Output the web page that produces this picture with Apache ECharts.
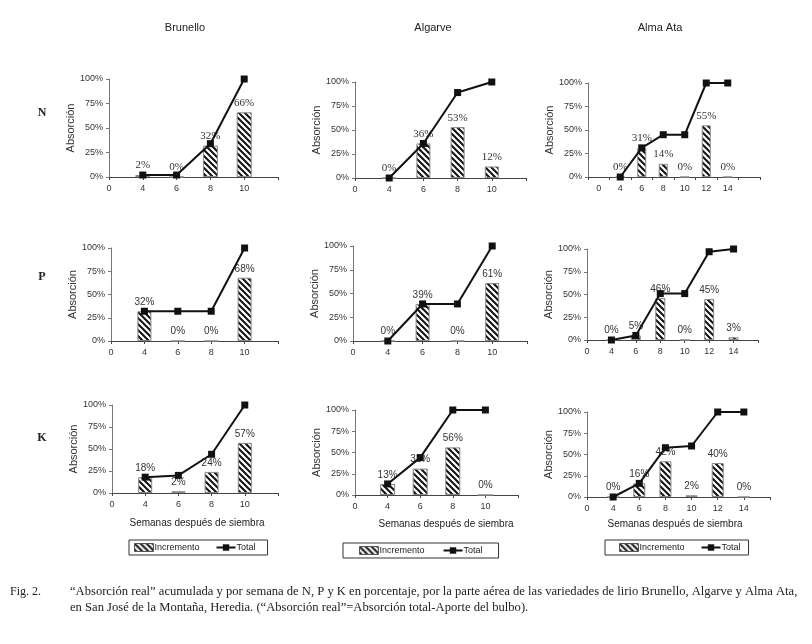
<!DOCTYPE html>
<html><head><meta charset="utf-8">
<script src="https://cdn.jsdelivr.net/npm/echarts@6/dist/echarts.min.js"></script>
<style>html,body{margin:0;padding:0;background:#fff}#c{width:812px;height:644px}</style>
</head><body><div id="c"></div>
<script>
// ---- data ----
const varieties = ['Brunello', 'Algarve', 'Alma Ata'];
const nutrients = ['N', 'P', 'K'];
const weeksShort = ['4', '6', '8', '10'];
const weeksLong = ['4', '6', '8', '10', '12', '14'];
const xLabelsShort = ['0', '4', '6', '8', '10', ''];
const xLabelsLong = ['0', '4', '6', '8', '10', '12', '14', ''];
const yTicks = [0, 25, 50, 75, 100];

const incN_Brunello = [2, 0, 32, 66];
const totN_Brunello = [2, 2, 34, 100];
const incN_Algarve = [0, 36, 53, 12];
const totN_Algarve = [0, 36, 89, 100];
const incN_AlmaAta = [0, 31, 14, 0, 55, 0];
const totN_AlmaAta = [0, 31, 45, 45, 100, 100];

const incP_Brunello = [32, 0, 0, 68];
const totP_Brunello = [32, 32, 32, 100];
const incP_Algarve = [0, 39, 0, 61];
const totP_Algarve = [0, 39, 39, 100];
const incP_AlmaAta = [0, 5, 46, 0, 45, 3];
const totP_AlmaAta = [0, 5, 51, 51, 97, 100];

const incK_Brunello = [18, 2, 24, 57];
const totK_Brunello = [18, 20, 44, 100];
const incK_Algarve = [13, 31, 56, 0];
const totK_Algarve = [13, 44, 100, 100];
const incK_AlmaAta = [0, 16, 42, 2, 40, 0];
const totK_AlmaAta = [0, 16, 58, 60, 100, 100];

const xTitle = 'Semanas después de siembra';
const yTitle = 'Absorción';
const seriesNames = ['Incremento', 'Total'];
const figLabel = 'Fig. 2.';
const caption1 = '“Absorción real” acumulada y por semana de N, P y K en porcentaje, por la parte aérea de las variedades de lirio Brunello, Algarve y Alma Ata,';
const caption2 = 'en San José de la Montaña, Heredia. (“Absorción real”=Absorción total-Aporte del bulbo).';

// ---- layout ----
const panels = [
  {inc: incN_Brunello, tot: totN_Brunello, weeks: weeksShort, labels: xLabelsShort, g: [109, 79, 169, 98], bw: 15, bg: false, serif: true},
  {inc: incN_Algarve, tot: totN_Algarve, weeks: weeksShort, labels: xLabelsShort, g: [355, 82, 171, 96], bw: 14, bg: false, serif: true},
  {inc: incN_AlmaAta, tot: totN_AlmaAta, weeks: weeksLong, labels: xLabelsLong, g: [588, 83, 172, 94], bw: 9, bg: true, serif: true},
  {inc: incP_Brunello, tot: totP_Brunello, weeks: weeksShort, labels: xLabelsShort, g: [111, 248, 167, 93], bw: 14, bg: false, serif: false},
  {inc: incP_Algarve, tot: totP_Algarve, weeks: weeksShort, labels: xLabelsShort, g: [353, 246, 174, 95], bw: 14, bg: false, serif: false},
  {inc: incP_AlmaAta, tot: totP_AlmaAta, weeks: weeksLong, labels: xLabelsLong, g: [587, 249, 171, 91], bw: 10, bg: false, serif: false},
  {inc: incK_Brunello, tot: totK_Brunello, weeks: weeksShort, labels: xLabelsShort, g: [112, 405, 166, 88], bw: 14, bg: false, serif: false},
  {inc: incK_Algarve, tot: totK_Algarve, weeks: weeksShort, labels: xLabelsShort, g: [355, 410, 163, 85], bw: 15, bg: false, serif: false},
  {inc: incK_AlmaAta, tot: totK_AlmaAta, weeks: weeksLong, labels: xLabelsLong, g: [587, 412, 183, 85], bw: 12, bg: false, serif: false}
];

function hatch() {
  const s = 6;
  const c = document.createElement('canvas');
  c.width = s; c.height = s;
  const g = c.getContext('2d');
  g.fillStyle = '#fff'; g.fillRect(0, 0, s, s);
  g.strokeStyle = '#111'; g.lineWidth = 2;
  g.beginPath();
  g.moveTo(-1, -1); g.lineTo(s + 1, s + 1);
  g.moveTo(-1, s - 1); g.lineTo(1, s + 1);
  g.moveTo(s - 1, -1); g.lineTo(s + 1, 1);
  g.stroke();
  return c;
}
const pattern = {image: hatch(), repeat: 'repeat'};

const SANS = '"Liberation Sans", Arial, sans-serif';
const SERIF = '"Liberation Serif", "Times New Roman", serif';

const grids = [], xAxes = [], yAxes = [], series = [];
panels.forEach((p, i) => {
  grids.push({left: p.g[0], top: p.g[1], width: p.g[2], height: p.g[3], containLabel: false});
  xAxes.push({
    type: 'category', gridIndex: i, data: p.labels, boundaryGap: p.bg,
    axisLine: {lineStyle: {color: '#444', width: 1}},
    axisTick: {show: true, length: 3, lineStyle: {color: '#444'}},
    axisLabel: {fontSize: 9, color: '#333', fontFamily: SANS, margin: 7, interval: 0}
  });
  yAxes.push({
    type: 'value', gridIndex: i, min: yTicks[0], max: yTicks[yTicks.length - 1], interval: 25,
    name: yTitle, nameLocation: 'middle', nameRotate: 90, nameGap: 22,
    nameTextStyle: {fontSize: 11, color: '#333', fontFamily: SANS},
    axisLine: {show: true, lineStyle: {color: '#777', width: 1}},
    axisTick: {show: true, length: 3, lineStyle: {color: '#777'}},
    splitLine: {show: false},
    axisLabel: {fontSize: 9, color: '#333', fontFamily: SANS, margin: 6, formatter: '{value}%'}
  });
  series.push({
    name: seriesNames[0], type: 'bar', xAxisIndex: i, yAxisIndex: i, barWidth: p.bw,
    data: p.weeks.map((w, k) => [w, p.inc[k]]),
    itemStyle: {color: pattern, borderColor: '#888', borderWidth: 1},
    label: {show: true, position: 'top', distance: 4, fontSize: p.serif ? 11 : 10,
      fontFamily: p.serif ? SERIF : SANS, color: '#333', formatter: d => d.value[1] + '%'},
    z: 2
  });
  series.push({
    name: seriesNames[1], type: 'line', xAxisIndex: i, yAxisIndex: i,
    data: p.weeks.map((w, k) => [w, p.tot[k]]),
    symbol: 'rect', symbolSize: 7, color: '#111',
    lineStyle: {color: '#111', width: 2}, itemStyle: {color: '#111'}, z: 3
  });
});

const colTitles = [[185, 28], [433, 28], [660, 28]];
const rowTitles = [[42, 113], [42, 277], [42, 438]];
const xTitlePos = [[197, 523], [446, 524], [675, 524]];
const graphics = [];
varieties.forEach((v, i) => graphics.push({type: 'text', x: colTitles[i][0], y: colTitles[i][1],
  style: {text: v, font: '11px ' + SANS, fill: '#222', textAlign: 'center', textVerticalAlign: 'middle'}}));
nutrients.forEach((n, i) => graphics.push({type: 'text', x: rowTitles[i][0], y: rowTitles[i][1],
  style: {text: n, font: 'bold 12px ' + SERIF, fill: '#222', textAlign: 'center', textVerticalAlign: 'middle'}}));
xTitlePos.forEach(pp => graphics.push({type: 'text', x: pp[0], y: pp[1],
  style: {text: xTitle, font: '10px ' + SANS, fill: '#222', textAlign: 'center', textVerticalAlign: 'middle'}}));
graphics.push({type: 'text', x: 10, y: 592, style: {text: figLabel, font: '12px ' + SERIF, fill: '#222', textVerticalAlign: 'middle'}});
graphics.push({type: 'text', x: 70, y: 592, style: {text: caption1, font: '12.6px ' + SERIF, fill: '#222', textVerticalAlign: 'middle'}});
graphics.push({type: 'text', x: 70, y: 608, style: {text: caption2, font: '12.6px ' + SERIF, fill: '#222', textVerticalAlign: 'middle'}});

// legend boxes: [left, top, padLeft, gap, padRight]
const legendBoxes = [[129, 540, 5, 16, 12], [343, 543, 16, 18, 16], [605, 540, 14, 16, 8]];
const legends = legendBoxes.map(b => ({
  left: b[0], top: b[1], orient: 'horizontal',
  data: [{name: seriesNames[0], icon: 'rect', itemStyle: {borderColor: '#555', borderWidth: 1}}, {name: seriesNames[1]}],
  borderColor: '#333', borderWidth: 1, borderRadius: 0, padding: [3, b[4], 3, b[2]],
  itemGap: b[3], itemWidth: 19, itemHeight: 8,
  textStyle: {fontSize: 9, color: '#222', fontFamily: SANS, padding: [0, 0, 0, -4]},
  selectedMode: false
}));

const chart = echarts.init(document.getElementById('c'), null, {renderer: 'canvas'});
chart.setOption({
  backgroundColor: '#fff', animation: false,
  grid: grids, xAxis: xAxes, yAxis: yAxes, series: series,
  legend: legends, graphic: graphics
});
</script></body></html>
